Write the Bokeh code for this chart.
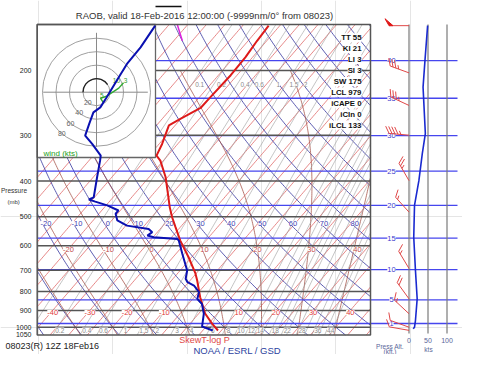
import numpy as np
from bokeh.plotting import figure
from bokeh.models import Range1d, LinearScale
from bokeh.core.properties import value
from bokeh.embed import file_html
from bokeh.resources import INLINE

# ---------------- data ----------------
temp_p = [1021, 979, 918, 829, 746, 714, 645, 581, 534, 502, 471, 429, 390, 352, 341,
          317, 297, 282, 271, 253, 237, 206, 184, 166, 151]
temp_c = [9.1, 6.0, 1.7, -3.4, -8.1, -10.2, -15.8, -21.9, -26.3, -29.5, -32.5, -36.5, -40.6,
          -45.8, -48.0, -49.2, -50.6, -51.7, -50.1, -47.2, -47.1, -46.7, -46.9, -47.6, -48.0]
dewp_p = [1021, 996, 919, 864, 837, 803, 770, 754, 738, 701, 631, 581, 575, 569, 563, 551,
          540, 529, 512, 491, 481, 466, 455, 449, 443, 390, 352, 341, 317, 301, 279, 260,
          252, 237, 209, 192, 173, 151]
dewp_c = [7.7, 3.9, 1.4, -1.4, -3.8, -4.9, -7.8, -10.3, -11.6, -13.1, -18.3, -22.3, -23.1,
          -29.8, -31.9, -31.4, -33.1, -39.7, -43.5, -45.5, -45.5, -49.7, -53.8, -56.0, -55.2,
          -59.0, -62.0, -63.0, -68.0, -71.8, -73.5, -75.0, -74.3, -74.9, -76.3, -77.2, -77.4, -78.5]
trop_p = [150, 166]
trop_c = [-72.8, -67.7]
wspd_p = [1010, 1000, 959, 837, 701, 569, 466, 399, 337, 297, 222, 188, 151]
wspd_kt = [11, 14.5, 17, 21.5, 17, 12.5, 14.5, 26, 35, 43, 37, 42, 49]
barb_p = [151, 203, 249, 300, 399, 486, 692, 837, 919, 1000, 1020]
barb_dir = [270, 290, 295, 275, 330, 318, 329, 324, 313, 290, 280]
barb_kt = [50, 35, 35, 45, 25, 15, 15, 20, 15, 10, 10]
hodo_u = [10, 6, 15, 24, 33, 40]
hodo_v = [-15, -9, -6, 0, 6, 14]
hodo_rings = [20, 40, 60, 80]
hodo_marks = ["5", "10", "3"]
hodo_mark_u = [8, 29.6, 43]
hodo_mark_v = [-5, 17.3, 16.6]
idx_names = ["TT", "KI", "LI", "SI", "SW", "LCL", "iCAPE", "iCIn", "iLCL"]
idx_vals = ["55", "21", "3", "3", "175", "979", "0", "0", "133"]
alt_kft = [1, 5, 10, 15, 20, 25, 30, 35, 40]
alt_p = [977, 843, 697, 572, 466, 376, 301, 238, 188]
press_levels = [1000, 900, 800, 700, 600, 500, 400, 300, 200]
press_labels = [1050, 1000, 900, 800, 700, 600, 500, 400, 300, 200]
iso_labels = [-40, -30, -20, -10, 10, 20, 30, 40]
theta_labels = [-20, -10, 0, 10, 20, 30, 40, 50, 60, 70, 80]
thetaw_labels = [-20, -10, 0, 10, 20, 30, 40]
thetaw_label_px = [68, 108, 151, 204, 257, 311, 357]
mix_lines = [0.1, 0.2, 0.4, 0.6, 1, 1.5, 2, 3, 4, 6, 8, 10, 12, 14, 16, 18, 20, 22, 24,
             28, 32, 36, 40, 44, 48]
mix_lab_bottom = [0.2, 0.4, 0.6, 1, 1.5, 2, 3, 4, 6, 8, 10, 12, 14, 18, 22, 28, 36, 44]
mix_lab_top = [0.1, 0.2, 0.4, 0.6, 1, 1.5, 2]
spd_ticks = [0, 50, 100]

# ---------------- geometry of the diagram ----------------
W, H = 462, 354
SKEW = 37.0          # deg C of skew per ln(1000/p)
PX_C = 3.72          # px per deg C
X0 = 186.5           # px of 0 C at 1000 mb
Y1000 = 326.7        # px of 1000 mb
PX_LN = 159.5        # px per ln(p)
KT_PX, KT0 = 0.38, 408.5
H_PX, HCX, HCY = 0.675, 96.0, 91.7
FONT = "Liberation Sans"

def skx(T, p):
    return np.asarray(T, float) + SKEW * np.log(1000.0 / np.asarray(p, float))

def x_of_px(px):
    return (px - X0) / PX_C

def p_of_py(py):
    return 1000.0 * np.exp(-(Y1000 - py) / PX_LN)

BOX_L, BOX_R = 36.7, 370.0
XMIN, XMAX = x_of_px(BOX_L), x_of_px(BOX_R)

p = figure(width=W, height=H,
           x_range=Range1d(x_of_px(0), x_of_px(W)),
           y_range=Range1d(p_of_py(H), p_of_py(0)),
           y_axis_type="log", x_axis_location=None, y_axis_location=None,
           toolbar_location=None, output_backend="svg", min_border=0,
           outline_line_color=None)
p.background_fill_color = "white"
p.extra_x_ranges = {
    "px": Range1d(0, W),
    "kt": Range1d((0 - KT0) / KT_PX, (W - KT0) / KT_PX),
    "hu": Range1d((0 - HCX) / H_PX, (W - HCX) / H_PX),
}
p.extra_y_ranges = {
    "py": Range1d(H, 0),
    "hv": Range1d((HCY - H) / H_PX, (HCY - 0) / H_PX),
}
p.extra_y_scales = {"py": LinearScale(), "hv": LinearScale()}

def txt(x, y, s, size, color, align="center", bold=False, bg=None, xr=None, yr=None):
    kw = dict(x=x, y=y, text=s, text_font=value(FONT), text_font_size=f"{size}px",
              text_color=color, text_align=align, text_baseline="middle")
    if bold:
        kw["text_font_style"] = "bold"
    if bg:
        kw["background_fill_color"] = bg
    if xr:
        kw["x_range_name"] = xr
    if yr:
        kw["y_range_name"] = yr
    p.text(**kw)

def clip(X, P):
    X = np.asarray(X, float); lp = np.log(np.asarray(P, float))
    segs, cur = [], []
    def flush():
        if len(cur) > 1:
            segs.append(list(cur))
        cur.clear()
    for i in range(len(X) - 1):
        x0, x1, l0, l1 = X[i], X[i + 1], lp[i], lp[i + 1]
        dx = x1 - x0
        if dx == 0:
            if x0 < XMIN or x0 > XMAX:
                flush(); continue
            t0, t1 = 0.0, 1.0
        else:
            ta, tb = (XMIN - x0) / dx, (XMAX - x0) / dx
            t0, t1 = max(0.0, min(ta, tb)), min(1.0, max(ta, tb))
            if t0 > t1:
                flush(); continue
        a = (x0 + t0 * dx, l0 + t0 * (l1 - l0))
        b = (x0 + t1 * dx, l0 + t1 * (l1 - l0))
        if not cur or t0 > 0:
            flush(); cur.append(a)
        cur.append(b)
        if t1 < 1:
            flush()
    flush()
    xs = [[q[0] for q in s] for s in segs]
    ys = [[float(np.exp(q[1])) for q in s] for s in segs]
    return xs, ys

pp = np.exp(np.linspace(np.log(1050), np.log(150), 160))

def family(curves, color, width, alpha=1.0):
    XS, YS = [], []
    for X, P in curves:
        xs, ys = clip(X, P)
        XS += xs; YS += ys
    p.multi_line(XS, YS, line_color=color, line_width=width, line_alpha=alpha)

# isotherms
family([(skx(np.full_like(pp, T), pp), pp) for T in range(-110, 55, 5)], "#e06a6a", 0.8)
# dry adiabats
def dry_T(th, pr):
    return (th + 273.15) * (pr / 1000.0) ** 0.2857 - 273.15
family([(skx(dry_T(th, pp), pp), pp) for th in range(-40, 180, 10)], "#4a4aa8", 0.9)
# moist adiabats
def moist(tw):
    Rd, cp, Lv, eps = 287.04, 1005.7, 2.501e6, 0.622
    def f(T, lnp):
        pr = np.exp(lnp)
        es = 6.112 * np.exp(17.67 * (T - 273.15) / (T - 273.15 + 243.5))
        rs = eps * es / (pr - es)
        return (Rd * T + Lv * rs) / (cp + Lv * Lv * rs * eps / (Rd * T * T))
    def integ(ls):
        Ts = [tw + 273.15]
        for i in range(len(ls) - 1):
            h = ls[i + 1] - ls[i]; T = Ts[-1]; l = ls[i]
            k1 = f(T, l); k2 = f(T + h / 2 * k1, l + h / 2)
            k3 = f(T + h / 2 * k2, l + h / 2); k4 = f(T + h * k3, l + h)
            Ts.append(T + h / 6 * (k1 + 2 * k2 + 2 * k3 + k4))
        return np.array(Ts)
    up = np.linspace(np.log(1000), np.log(200), 120)
    dn = np.linspace(np.log(1000), np.log(1050), 8)
    Tu, Tdn = integ(up), integ(dn)
    lnp = np.concatenate([dn[::-1], up[1:]])
    T = np.concatenate([Tdn[::-1], Tu[1:]]) - 273.15
    pr = np.exp(lnp)
    return skx(T, pr), pr
family([moist(tw) for tw in range(-30, 60, 10)], "#a8584e", 0.8)
# mixing ratio lines
def mix_T(w, pr):
    e = w * pr / (622.0 + w)
    g = np.log(e / 6.112)
    return 243.5 * g / (17.67 - g)
family([(skx(mix_T(w, pp), pp), pp) for w in mix_lines], "#9a9a9a", 0.6)

# altitude lines (blue), pressure lines (gray), speed axis lines
n_alt = len(alt_p)
p.segment(x0=[BOX_L] * n_alt, x1=[457] * n_alt, y0=alt_p, y1=alt_p,
          line_color="#4646ee", line_width=1.3, x_range_name="px")
n_pr = len(press_levels)
p.segment(x0=[BOX_L] * n_pr, x1=[BOX_R] * n_pr, y0=press_levels, y1=press_levels,
          line_color="#555555", line_width=1.5, x_range_name="px")
p.segment(x0=spd_ticks, x1=spd_ticks, y0=[1040] * 3, y1=[150] * 3,
          line_color="#7a7a7a", line_width=1.2, x_range_name="kt")

# diagram labels
txt(list(skx(iso_labels, 900)), [912] * len(iso_labels), [str(v) for v in iso_labels],
    7.5, "#e03838", bg="white")
th_x = [float(skx(dry_T(t, 521), 521)) + 1.0 for t in theta_labels]
txt(th_x, [521] * len(theta_labels), [str(v) for v in theta_labels], 7.5, "#3c3cb0", bg="white")
txt(thetaw_label_px, [615] * len(thetaw_labels), [str(v) for v in thetaw_labels],
    7.5, "#c24a4a", bg="white", xr="px")
mb_x = [float(skx(mix_T(w, 1016), 1016)) + 1.0 for w in mix_lab_bottom]
txt(mb_x, [1018] * len(mix_lab_bottom), [f"{w:g}" for w in mix_lab_bottom], 6.5, "#8a8a8a", bg="white")
mt_x = [float(skx(mix_T(w, 218), 218)) + 2.1 for w in mix_lab_top]
txt(mt_x, [218] * len(mix_lab_top), [f"{w:g}" for w in mix_lab_top], 6.5, "#8a8a8a", bg="white")
txt([391] * n_alt, alt_p, [str(k) for k in alt_kft], 7.5, "#3a3acc", bg="white", xr="px")

# hodograph inset
p.quad(left=[BOX_L], right=[155], top=[24], bottom=[157], fill_color="white",
       line_color="#666666", line_width=1.3, x_range_name="px", y_range_name="py")
p.circle(x=[0] * 4, y=[0] * 4, radius=hodo_rings, fill_color=None, line_color="#a0a0a0",
         line_width=1, x_range_name="hu", y_range_name="hv")
p.segment(x0=[-79, 0], x1=[76, 0], y0=[0, -81], y1=[0, 88], line_color="#8a8a8a",
          line_width=1, x_range_name="hu", y_range_name="hv")
p.arc(x=[0], y=[0], radius=hodo_rings[0], start_angle=0.6, end_angle=np.pi,
      line_color="#222222", line_width=1.3, x_range_name="hu", y_range_name="hv")
ang = np.deg2rad(230)
txt([r * np.cos(ang) for r in hodo_rings], [r * np.sin(ang) for r in hodo_rings],
    [str(r) for r in hodo_rings], 7, "#666666", xr="hu", yr="hv")
p.line(hodo_u, hodo_v, line_color="#33aa33", line_width=1.4, x_range_name="hu", y_range_name="hv")
txt(hodo_mark_u, hodo_mark_v, hodo_marks, 6.5, "#2f9a2f", xr="hu", yr="hv")
txt([43], [153], ["wind (kts)"], 8, "#22a022", align="left", xr="px", yr="py")

# sounding
p.line(list(skx(temp_c, temp_p)), temp_p, line_color="#dd1a1a", line_width=2)
p.line(list(skx(dewp_c, dewp_p)), dewp_p, line_color="#0a10b0", line_width=2)
p.line(list(skx(trop_c, trop_p)), trop_p, line_color="#dd22dd", line_width=1.5)
p.line(wspd_kt, wspd_p, line_color="#1a2ad0", line_width=1.6, x_range_name="kt")

# wind barbs
bx, by, fx_, fy_ = [], [], [], []
for p0, spd, d in zip(barb_p, barb_kt, barb_dir):
    a = np.deg2rad(d); sx, sy = np.sin(a), np.cos(a)
    r = np.deg2rad(-60)
    fx, fy = sx * np.cos(r) - sy * np.sin(r), sx * np.sin(r) + sy * np.cos(r)
    L = 20.0
    def cv(pts):
        return [q[0] / KT_PX for q in pts], [p0 * np.exp(-q[1] / PX_LN) for q in pts]
    segs = [[(0, 0), (L * sx, L * sy)]]
    rem = int(5 * round(spd / 5)); pos = L
    n50 = rem // 50; rem -= 50 * n50
    n10 = rem // 10; rem -= 10 * n10
    n5 = rem // 5
    for _ in range(n50):
        xs, ys = cv([(pos * sx, pos * sy), (pos * sx + 8 * fx, pos * sy + 8 * fy),
                     ((pos - 4) * sx, (pos - 4) * sy)])
        fx_.append(xs); fy_.append(ys); pos -= 5
    for _ in range(n10):
        segs.append([(pos * sx, pos * sy), (pos * sx + 8 * fx, pos * sy + 8 * fy)]); pos -= 3
    if n5:
        if n50 == 0 and n10 == 0:
            pos -= 3
        segs.append([(pos * sx, pos * sy), (pos * sx + 4 * fx, pos * sy + 4 * fy)])
    for s in segs:
        xs, ys = cv(s); bx.append(xs); by.append(ys)
p.multi_line(bx, by, line_color="#e04848", line_width=1, x_range_name="kt")
if fx_:
    p.patches(fx_, fy_, fill_color="#e01818", line_color="#e01818", x_range_name="kt")

# stability indices
idx_y = [37.3 + 10.9 * i for i in range(len(idx_names))]
txt([361] * len(idx_names), idx_y, [f"{n} {v}" for n, v in zip(idx_names, idx_vals)],
    7.8, "#111111", align="right", bold=True, bg="white", xr="px", yr="py")

# main frame
p.quad(left=[BOX_L], right=[BOX_R], top=[150], bottom=[1050], fill_color=None,
       line_color="#555555", line_width=1.5, x_range_name="px")

# axis texts
txt([31] * len(press_labels), press_labels, [str(v) for v in press_labels], 7, "#222222",
    align="right", xr="px")
txt([0.5], [190], ["Pressure"], 6.5, "#333333", align="left", xr="px", yr="py")
txt([7], [201], ["(mb)"], 6, "#333333", align="left", xr="px", yr="py")
txt(spd_ticks, [340] * 3, [str(v) for v in spd_ticks], 7, "#5a6699", xr="kt", yr="py")
txt([428], [348.5], ["kts"], 6.5, "#5a6699", xr="px", yr="py")
txt([389.5, 389.5], [345.5, 351], ["Press Alt.", "(kft.)"], 6.5, "#5a6699", xr="px", yr="py")

# titles / footers
p.segment(x0=[155], x1=[181], y0=[6], y1=[6], line_color="#111111", line_width=1.5,
          x_range_name="px", y_range_name="py")
txt([204], [14.5], ["RAOB, valid 18-Feb-2016 12:00:00 (-9999nm/0\u00b0 from 08023)"], 9.5,
    "#333333", xr="px", yr="py")
txt([5], [345], ["08023(R) 12Z 18Feb16"], 9, "#222222", align="left", xr="px", yr="py")
txt([204], [339.5], ["SkewT-log P"], 9, "#e04848", xr="px", yr="py")
txt([237], [349.5], ["NOAA / ESRL / GSD"], 9.5, "#2b3fa0", xr="px", yr="py")

open("out.html", "w").write(file_html(p, INLINE))
